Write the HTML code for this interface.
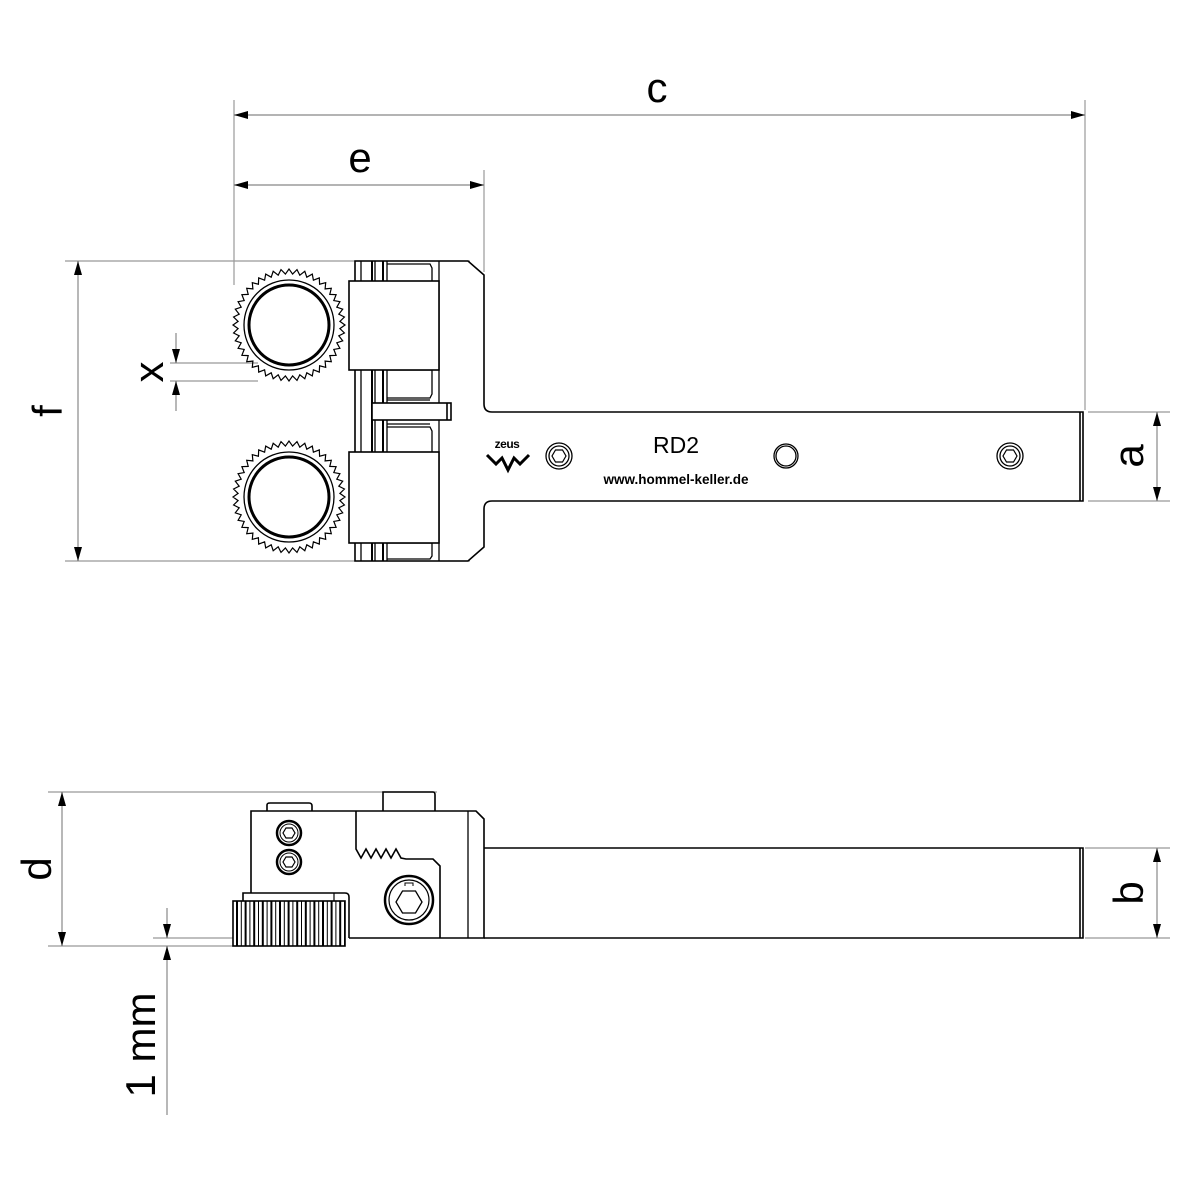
<!DOCTYPE html>
<html><head><meta charset="utf-8"><style>
html,body{margin:0;padding:0;background:#fff}
svg{display:block}
text{font-family:"Liberation Sans",sans-serif;fill:#000}
</style></head><body>
<svg id="s" width="1181" height="1181" viewBox="0 0 1181 1181" xmlns="http://www.w3.org/2000/svg">
<defs>
<marker id="ar" viewBox="0 0 14 8" refX="14" refY="4" markerWidth="14" markerHeight="8" orient="auto-start-reverse" markerUnits="userSpaceOnUse"><path d="M0,0 L14,4 L0,8 Z" fill="#000"/></marker>
</defs>
<g stroke="#999" stroke-width="1.2" fill="none">
<line x1="234" y1="100" x2="234" y2="285"/>
<line x1="1085" y1="100" x2="1085" y2="410"/>
<line x1="484" y1="170" x2="484" y2="272"/>
<line x1="65" y1="261" x2="470" y2="261"/>
<line x1="65" y1="561" x2="470" y2="561"/>
<line x1="170" y1="363" x2="258" y2="363"/>
<line x1="170" y1="381" x2="258" y2="381"/>
<line x1="1088" y1="412" x2="1170" y2="412"/>
<line x1="1088" y1="501" x2="1170" y2="501"/>
<line x1="48" y1="792" x2="437" y2="792"/>
<line x1="48" y1="946" x2="233" y2="946"/>
<line x1="153" y1="938" x2="233" y2="938"/>
<line x1="1085" y1="848" x2="1170" y2="848"/>
<line x1="1085" y1="938" x2="1170" y2="938"/>
</g>
<g stroke="#888" stroke-width="1.2" fill="none">
<line x1="234" y1="115" x2="1085" y2="115" marker-start="url(#ar)" marker-end="url(#ar)"/>
<line x1="234" y1="185" x2="484" y2="185" marker-start="url(#ar)" marker-end="url(#ar)"/>
<line x1="78" y1="261" x2="78" y2="561" marker-start="url(#ar)" marker-end="url(#ar)"/>
<line x1="1157" y1="412" x2="1157" y2="501" marker-start="url(#ar)" marker-end="url(#ar)"/>
<line x1="62" y1="792" x2="62" y2="946" marker-start="url(#ar)" marker-end="url(#ar)"/>
<line x1="1157" y1="848" x2="1157" y2="938" marker-start="url(#ar)" marker-end="url(#ar)"/>
<line x1="176" y1="333" x2="176" y2="363" marker-end="url(#ar)"/>
<line x1="176" y1="411" x2="176" y2="381" marker-end="url(#ar)"/>
<line x1="167" y1="908" x2="167" y2="938" marker-end="url(#ar)"/>
<line x1="167" y1="1115" x2="167" y2="946" marker-end="url(#ar)"/>
</g>
<text x="657" y="102" font-size="42" text-anchor="middle">c</text>
<text x="360" y="172" font-size="42" text-anchor="middle">e</text>
<text transform="translate(62,411) rotate(-90)" font-size="42" text-anchor="middle">f</text>
<text transform="translate(163,372) rotate(-90)" font-size="42" text-anchor="middle">x</text>
<text transform="translate(1143,456) rotate(-90)" font-size="42" text-anchor="middle">a</text>
<text transform="translate(51,869) rotate(-90)" font-size="42" text-anchor="middle">d</text>
<text transform="translate(1143,893) rotate(-90)" font-size="42" text-anchor="middle">b</text>
<text transform="translate(155,1045) rotate(-90)" font-size="42" text-anchor="middle">1 mm</text>

<g stroke="#000" stroke-width="1.6" fill="none">
<path d="M355,261 L468,261 L484,275 L484,404 Q484,412 492,412 L1083,412 L1083,501 L492,501 Q484,501 484,509 L484,547 L468,561 L355,561 Z"/>
<line x1="1080" y1="412" x2="1080" y2="501"/>
<g stroke-width="1.3">
<line x1="361" y1="261" x2="361" y2="561"/>
<line x1="372" y1="261" x2="372" y2="561" stroke-width="2"/>
<line x1="375" y1="261" x2="375" y2="561"/>
<line x1="383" y1="261" x2="383" y2="561" stroke-width="2"/>
<line x1="387" y1="261" x2="387" y2="561"/>
<line x1="439" y1="261" x2="439" y2="561"/>
<path d="M387,264 L430,264 L432,268 L432,281"/>
<path d="M387,370 L432,370 L432,394 L430,398 L387,398"/>
<path d="M387,400 L430,400"/>
<path d="M387,424 L430,424 M387,427 L430,427 L432,431 L432,452"/>
<path d="M387,543 L432,543 L432,556 L430,559 L387,559"/>
</g>
<rect x="349" y="281" width="90" height="89" fill="#fff"/>
<rect x="349" y="452" width="90" height="91" fill="#fff"/>
<rect x="372" y="403" width="79" height="17" fill="#fff"/>
<line x1="447" y1="403" x2="447" y2="420"/>
<path id="k1" d=""/>
<path id="k2" d=""/>
<circle cx="289" cy="325" r="45" stroke-width="1.3"/>
<circle cx="289" cy="325" r="40" stroke-width="3"/>
<circle cx="289" cy="497" r="45" stroke-width="1.3"/>
<circle cx="289" cy="497" r="40" stroke-width="3"/>
<circle cx="559" cy="456" r="13" stroke-width="1.3"/><circle cx="559" cy="456" r="10" stroke-width="1.3"/>
<polygon points="566,456 562.5,462 555.5,462 552,456 555.5,450 562.5,450" stroke-width="1.2"/>
<circle cx="786" cy="456" r="12" stroke-width="1.3"/><circle cx="786" cy="456" r="10" stroke-width="1.3"/>
<circle cx="1010" cy="456" r="13" stroke-width="1.3"/><circle cx="1010" cy="456" r="10" stroke-width="1.3"/>
<polygon points="1017,456 1013.5,462 1006.5,462 1003,456 1006.5,450 1013.5,450" stroke-width="1.2"/>
<path d="M487,455 L496,464 L502,458 L508,470 L514,458 L520,464 L529,455" stroke-width="3"/>
</g>
<text x="507" y="448" font-size="12" font-weight="bold" text-anchor="middle" style="letter-spacing:-0.5px">zeus</text>
<text x="676" y="453" font-size="23" text-anchor="middle" fill="#111">RD2</text>
<text x="676" y="484" font-size="13.5" font-weight="bold" text-anchor="middle">www.hommel-keller.de</text>

<g stroke="#000" stroke-width="1.6" fill="none">
<path d="M484,848 L1083,848 L1083,938 L484,938"/>
<line x1="1080" y1="848" x2="1080" y2="938"/>
<path d="M251,893 L251,811 L476,811 L484,819 L484,938 L349,938"/>
<path d="M267,811 L267,805 Q267,803 270,803 L309,803 Q312,803 312,806 L312,811"/>
<path d="M383,811 L383,792 L433,792 Q435,792 435,795 L435,811"/>
<path d="M356,811 L356,849 L361,858 L366,849 L371,858 L376,849 L381,858 L386,849 L391,858 L396,849 L401,858 L406,859 L433,859 L440,866 L440,938"/>
<line x1="468" y1="811" x2="468" y2="938" stroke-width="1.3"/>
<path d="M243,901 L243,893 L345,893 Q349,893 349,897 L349,938"/>
<line x1="334" y1="893" x2="334" y2="901" stroke-width="1.2"/>
<rect x="233" y="901" width="112" height="45" fill="#fff"/>
<g id="kl" stroke="#000"></g>
<circle cx="289" cy="833" r="12" stroke-width="2.5"/><circle cx="289" cy="833" r="9" stroke-width="1"/>
<polygon points="295,833 292,838 286,838 283,833 286,828 292,828" stroke-width="1.2"/>
<circle cx="289" cy="862" r="12" stroke-width="2.5"/><circle cx="289" cy="862" r="9" stroke-width="1"/>
<polygon points="295,862 292,867 286,867 283,862 286,857 292,857" stroke-width="1.2"/>
<circle cx="409" cy="900" r="24" stroke-width="2.5"/><circle cx="409" cy="900" r="20" stroke-width="1.2"/>
<polygon points="422,902 415.5,913 402.5,913 396,902 402.5,891 415.5,891" stroke-width="1.3"/>
<path d="M405,886 L405,883 L413,883 L413,886" stroke-width="1"/>
</g>
<script>
var NS="http://www.w3.org/2000/svg";
function knurl(id,cx,cy){var n=44,r1=56,r2=51,d="";for(var i=0;i<=2*n;i++){var a=Math.PI*i/n;var r=i%2?r2:r1;var x=cx+r*Math.cos(a),y=cy+r*Math.sin(a);d+=(i?"L":"M")+x.toFixed(1)+","+y.toFixed(1);}var e=document.getElementById(id);e.setAttribute("d",d+"Z");e.setAttribute("stroke-width","1.2");}
knurl("k1",289,325);knurl("k2",289,497);
var g=document.getElementById("kl");var k=0;
for(var x=237;x<345;x+=4.3){var l=document.createElementNS(NS,"line");l.setAttribute("x1",x.toFixed(1));l.setAttribute("x2",x.toFixed(1));l.setAttribute("y1","901");l.setAttribute("y2","946");l.setAttribute("stroke-width",(k%2)?"1":"2");g.appendChild(l);k++;}
</script>
</svg>
</body></html>
